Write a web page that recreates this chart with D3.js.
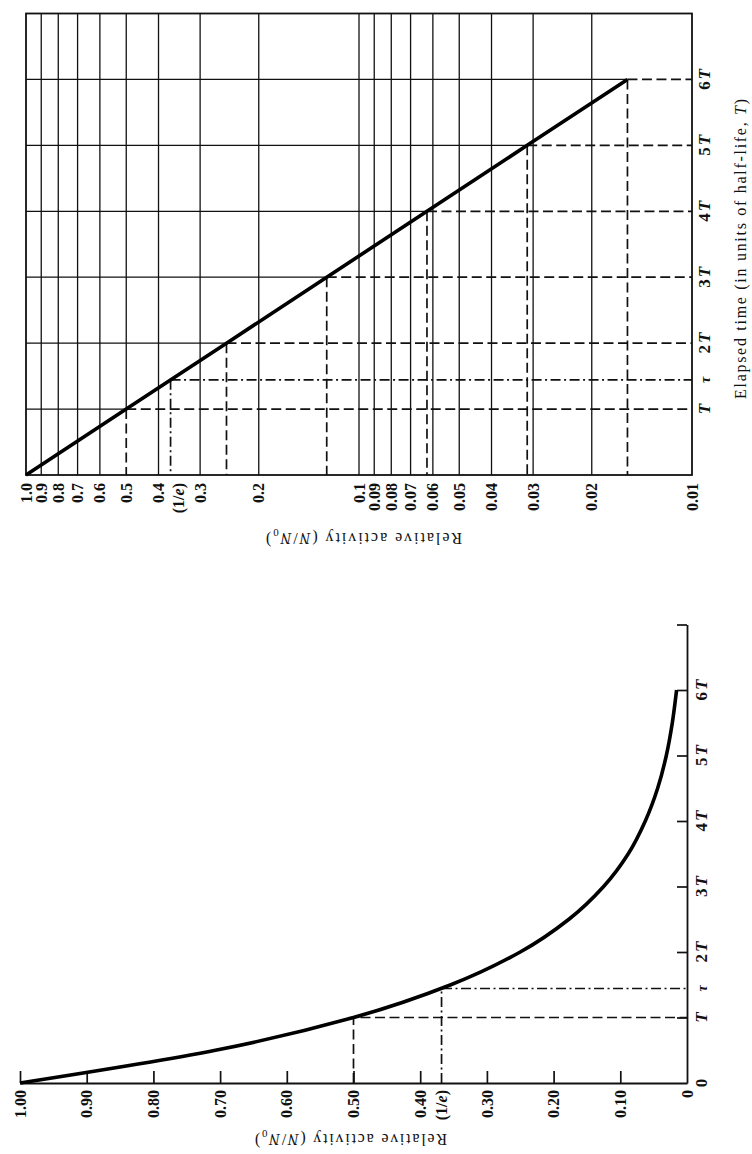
<!DOCTYPE html>
<html>
<head>
<meta charset="utf-8">
<script src="https://cdn.jsdelivr.net/npm/d3@7"></script>
<style>
  html, body { margin: 0; padding: 0; background: #fff; }
  svg { display: block; }
  text { font-family: "Liberation Serif", "DejaVu Serif", serif; fill: #111; }
</style>
</head>
<body>
<svg id="fig" width="752" height="1154"></svg>
<script>
// Elapsed time in half-lives and the relative activity N/N0 at each one
const halfLives = [0, 1, 2, 3, 4, 5, 6];
const activity = [1.0, 0.5, 0.25, 0.125, 0.0625, 0.03125, 0.015625];

// Mean life τ (in half-lives) and the activity it leaves, 1/e
const tauTime = 1.443;
const tauActivity = 0.368;

// Semi-log paper: vertical rulings and their labels
const logGrid = [1.0, 0.9, 0.8, 0.7, 0.6, 0.5, 0.4, 0.3, 0.2,
                 0.1, 0.09, 0.08, 0.07, 0.06, 0.05, 0.04, 0.03, 0.02, 0.01];
const logLabels = ["1.0", "0.9", "0.8", "0.7", "0.6", "0.5", "0.4", "0.3", "0.2",
                   "0.1", "0.09", "0.08", "0.07", "0.06", "0.05", "0.04", "0.03", "0.02", "0.01"];

// Linear plot: activity ticks and labels
const linTicks = [1.0, 0.9, 0.8, 0.7, 0.6, 0.5, 0.4, 0.3, 0.2, 0.1, 0];
const linLabels = ["1.00", "0.90", "0.80", "0.70", "0.60", "0.50", "0.40", "0.30", "0.20", "0.10", "0"];

// Time axis ticks (multiples of T) and their numeric prefixes
const timeTicks = [1, 2, 3, 4, 5, 6];
const timePrefix = ["", "2", "3", "4", "5", "6"];

// Decay curve sampled every half of a half-life
const curveTimes = [0, 0.5, 1, 1.5, 2, 2.5, 3, 3.5, 4, 4.5, 5, 5.5, 6];
const curveValues = [1.0, 0.707, 0.5, 0.354, 0.25, 0.177, 0.125, 0.088, 0.0625, 0.044, 0.031, 0.022, 0.0156];

const svg = d3.select("#fig");
const DASH = "10,4.5";
const DASHDOT = "10,3.5,2,3.5";
const INK = "#111";

// ---------------- Semi-log chart (upper) ----------------
const xL = d3.scaleLog().domain([1, 0.01]).range([26, 692]);
const yL = d3.scaleLinear().domain([0, 7]).range([475, 13.5]);
const gLog = svg.append("g");

// vertical rulings (0.5 is solid only above its half-life point)
logGrid.slice(1, -1).forEach(v => {
  const i = activity.indexOf(v);
  const yEnd = i > 0 ? yL(halfLives[i]) : yL(0);
  gLog.append("line")
    .attr("x1", xL(v)).attr("x2", xL(v))
    .attr("y1", yL(7)).attr("y2", yEnd)
    .attr("stroke", INK).attr("stroke-width", 1.3);
});

// horizontal rulings: solid up to the decay line
timeTicks.forEach((t, k) => {
  gLog.append("line")
    .attr("x1", xL(1)).attr("x2", xL(activity[k + 1]))
    .attr("y1", yL(t)).attr("y2", yL(t))
    .attr("stroke", INK).attr("stroke-width", 1.3);
});

// dashed read-offs from each half-life point
timeTicks.forEach((t, k) => {
  const v = activity[k + 1];
  gLog.append("line")
    .attr("x1", xL(v)).attr("x2", xL(0.01))
    .attr("y1", yL(t)).attr("y2", yL(t))
    .attr("stroke", INK).attr("stroke-width", 1.7).attr("stroke-dasharray", DASH);
  gLog.append("line")
    .attr("x1", xL(v)).attr("x2", xL(v))
    .attr("y1", yL(t)).attr("y2", yL(0))
    .attr("stroke", INK).attr("stroke-width", 1.7).attr("stroke-dasharray", DASH);
});

// dash-dot read-off at the mean life
gLog.append("line")
  .attr("x1", xL(tauActivity)).attr("x2", xL(0.01))
  .attr("y1", yL(tauTime)).attr("y2", yL(tauTime))
  .attr("stroke", INK).attr("stroke-width", 1.7).attr("stroke-dasharray", DASHDOT);
gLog.append("line")
  .attr("x1", xL(tauActivity)).attr("x2", xL(tauActivity))
  .attr("y1", yL(tauTime)).attr("y2", yL(0))
  .attr("stroke", INK).attr("stroke-width", 1.7).attr("stroke-dasharray", DASHDOT);

// frame
gLog.append("rect")
  .attr("x", xL(1)).attr("y", yL(7))
  .attr("width", xL(0.01) - xL(1)).attr("height", yL(0) - yL(7))
  .attr("fill", "none").attr("stroke", INK).attr("stroke-width", 1.8);

// decay line (straight on log paper)
gLog.append("path")
  .datum(halfLives.map((t, i) => [activity[i], t]))
  .attr("d", d3.line().x(d => xL(d[0])).y(d => yL(d[1])))
  .attr("fill", "none").attr("stroke", "#000").attr("stroke-width", 3.6);

// rotated value label: reads upward, its end sits at yTop
function valueLabel(g, x, yTop, txt) {
  return g.append("text")
    .attr("transform", `translate(${x},${yTop}) rotate(-90)`)
    .attr("text-anchor", "end").attr("dy", "0.35em")
    .text(txt);
}
function eLabel(g, x, yTop) {
  const t = g.append("text")
    .attr("transform", `translate(${x},${yTop}) rotate(-90)`)
    .attr("text-anchor", "end").attr("dy", "0.35em");
  t.append("tspan").text("(1/");
  t.append("tspan").attr("font-style", "italic").text("e");
  t.append("tspan").text(")");
}

// activity labels under the grid
const logLab = gLog.append("g").attr("font-size", 16).attr("font-weight", "bold");
logGrid.forEach((v, i) => valueLabel(logLab, xL(v), 483, logLabels[i]));
eLabel(logLab, xL(tauActivity) + 8, 483);

// time labels on the right
function timeLabels(g, yScale, baseX) {
  const lg = g.append("g").attr("font-size", 17).attr("font-weight", "bold");
  timeTicks.forEach((t, k) => {
    const tx = lg.append("text")
      .attr("transform", `translate(${baseX},${yScale(t)}) rotate(-90)`)
      .attr("text-anchor", "middle");
    if (timePrefix[k]) tx.append("tspan").text(timePrefix[k]);
    tx.append("tspan").attr("font-style", "italic").attr("dx", timePrefix[k] ? 2 : 0).text("T");
  });
  lg.append("text")
    .attr("transform", `translate(${baseX},${yScale(tauTime)}) rotate(-90)`)
    .attr("text-anchor", "middle").attr("font-style", "italic").attr("font-size", 14)
    .text("τ");
}
timeLabels(gLog, yL, 710);

// axis titles
const tTitle = svg.append("text")
  .attr("transform", "translate(746,249) rotate(-90)")
  .attr("text-anchor", "middle").attr("font-size", 16)
  .attr("textLength", 300).attr("lengthAdjust", "spacing");
tTitle.append("tspan").text("Elapsed time (in units of half-life, ");
tTitle.append("tspan").attr("font-style", "italic").text("T");
tTitle.append("tspan").text(")");

function activityTitle(x, y, len) {
  const t = svg.append("text")
    .attr("transform", `translate(${x},${y}) rotate(180)`)
    .attr("text-anchor", "middle").attr("font-size", 16)
    .attr("textLength", len).attr("lengthAdjust", "spacing");
  t.append("tspan").text("Relative activity (");
  t.append("tspan").attr("font-style", "italic").text("N");
  t.append("tspan").text("/");
  t.append("tspan").attr("font-style", "italic").text("N");
  t.append("tspan").attr("font-size", 11).attr("dy", "0.35em").text("0");
  t.append("tspan").attr("dy", "-0.35em").text(")");
}
activityTitle(364, 533, 196);

// ---------------- Linear chart (lower) ----------------
const xA = d3.scaleLinear().domain([1, 0]).range([20, 687]);
const yA = d3.scaleLinear().domain([0, 7]).range([1083, 624.5]);
const gLin = svg.append("g");

// dashed read-off at one half-life
gLin.append("path")
  .attr("d", `M${xA(activity[1])},${yA(0)}V${yA(halfLives[1])}H${xA(0)}`)
  .attr("fill", "none").attr("stroke", INK).attr("stroke-width", 1.7)
  .attr("stroke-dasharray", DASH);
// dash-dot read-off at the mean life
gLin.append("path")
  .attr("d", `M${xA(tauActivity)},${yA(0)}V${yA(tauTime)}H${xA(0)}`)
  .attr("fill", "none").attr("stroke", INK).attr("stroke-width", 1.7)
  .attr("stroke-dasharray", DASHDOT);

// activity axis along the bottom, ticks pointing into the plot
const axA = gLin.append("g")
  .attr("transform", `translate(0,${yA(0)})`)
  .call(d3.axisTop(xA).tickValues(linTicks.slice(0, -1)).tickSize(12).tickSizeOuter(0).tickFormat(""));
axA.select(".domain").attr("stroke", INK).attr("stroke-width", 1.8);
axA.selectAll(".tick line").attr("stroke", INK).attr("stroke-width", 1.7);

// time axis along the right, ticks pointing left
const axT = gLin.append("g")
  .attr("transform", `translate(${xA(0)},0)`)
  .call(d3.axisRight(yA).tickValues([1, 2, 3, 4, 5, 6, 7]).tickSize(-10).tickSizeOuter(0).tickFormat(""));
axT.select(".domain").attr("stroke", INK).attr("stroke-width", 1.8);
axT.selectAll(".tick line").attr("stroke", INK).attr("stroke-width", 1.7);

// decay curve
gLin.append("path")
  .datum(curveTimes.map((t, i) => [curveValues[i], t]))
  .attr("d", d3.line().x(d => xA(d[0])).y(d => yA(d[1])).curve(d3.curveMonotoneY))
  .attr("fill", "none").attr("stroke", "#000").attr("stroke-width", 3.6);

// activity labels
const linLab = gLin.append("g").attr("font-size", 16).attr("font-weight", "bold");
linTicks.forEach((v, i) => valueLabel(linLab, xA(v), 1090, linLabels[i]));
eLabel(linLab, xA(tauActivity), 1090);

// time labels (0 at the corner, then T … 6T)
timeLabels(gLin, yA, 707);
gLin.append("text")
  .attr("transform", `translate(707,${yA(0)}) rotate(-90)`)
  .attr("text-anchor", "middle").attr("font-size", 17).attr("font-weight", "bold")
  .text("0");

activityTitle(351, 1134, 192);
</script>
</body>
</html>
